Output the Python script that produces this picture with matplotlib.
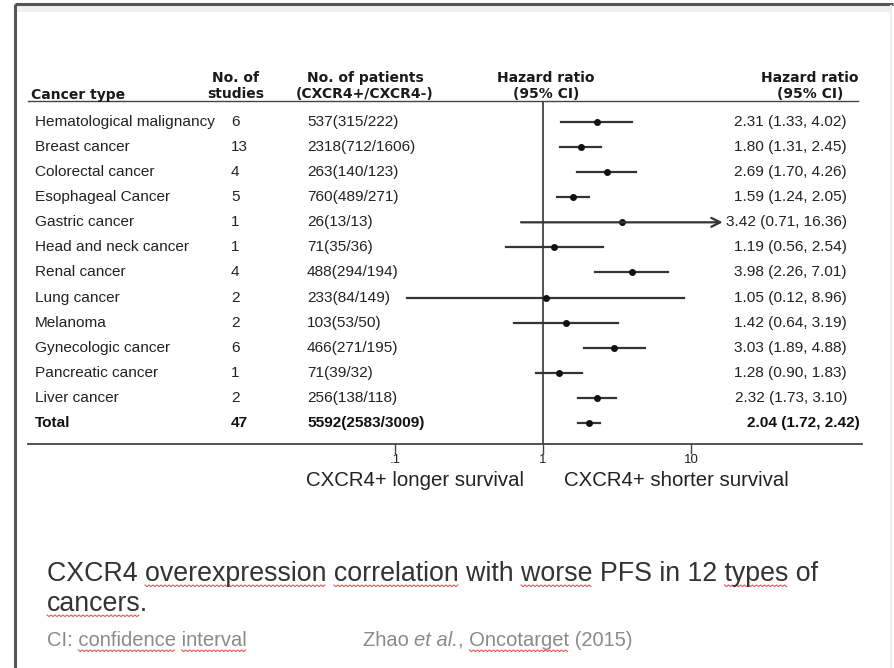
import numpy as np
import matplotlib
matplotlib.use("Agg")
import matplotlib.pyplot as plt

plt.rcParams['font.family'] = ['Liberation Sans', 'DejaVu Sans']

cancer_types = ["Hematological malignancy", "Breast cancer", "Colorectal cancer",
                "Esophageal Cancer", "Gastric cancer", "Head and neck cancer",
                "Renal cancer", "Lung cancer", "Melanoma", "Gynecologic cancer",
                "Pancreatic cancer", "Liver cancer"]
n_studies = [6, 13, 4, 5, 1, 1, 4, 2, 2, 6, 1, 2]
n_patients = ["537(315/222)", "2318(712/1606)", "263(140/123)", "760(489/271)",
              "26(13/13)", "71(35/36)", "488(294/194)", "233(84/149)",
              "103(53/50)", "466(271/195)", "71(39/32)", "256(138/118)"]
hr = [2.31, 1.80, 2.69, 1.59, 3.42, 1.19, 3.98, 1.05, 1.42, 3.03, 1.28, 2.32]
ci_low = [1.33, 1.31, 1.70, 1.24, 0.71, 0.56, 2.26, 0.12, 0.64, 1.89, 0.90, 1.73]
ci_high = [4.02, 2.45, 4.26, 2.05, 16.36, 2.54, 7.01, 8.96, 3.19, 4.88, 1.83, 3.10]

total_studies = 47
total_patients = "5592(2583/3009)"
total_hr, total_low, total_high = 2.04, 1.72, 2.42

W, H = 894, 668
fig = plt.figure(figsize=(W / 100, H / 100), dpi=100)
ax = fig.add_axes([0, 0, 1, 1])
ax.set_xlim(0, W)
ax.set_ylim(H, 0)
ax.axis('off')
r = fig.canvas.get_renderer()

# slide frame
ax.plot([15, 15], [4, H], color='#555555', lw=2.2, solid_capstyle='butt')
ax.plot([15, 893], [4, 4], color='#555555', lw=2.2, solid_capstyle='butt')
ax.fill_between([16, 891], 6, 12, color='#f0f0f0', lw=0)
ax.plot([891, 891], [6, H], color='#eeeeee', lw=1.5)

# table layout (pixel rows)
row0, step = 122, 25.08
rows = [row0 + i * step for i in range(len(cancer_types))]
total_y = row0 + len(cancer_types) * step
top_line, bottom_line = 101, 444
x_name, x_stud, x_pat, x_val = 35, 231, 307, 847
txt = dict(fontsize=11.1, color='#222222', va='center')
hdr = dict(fontsize=10, color='#1a1a1a', fontweight='bold', va='center',
           family='DejaVu Sans')
tot = dict(fontsize=11.1, color='#111111', fontweight='bold', va='center')

ax.text(31, 95, "Cancer type", ha='left', **hdr)
ax.text(236, 78, "No. of", ha='center', **hdr)
ax.text(236, 94, "studies", ha='center', **hdr)
ax.text(365, 78, "No. of patients", ha='center', **hdr)
ax.text(365, 94, "(CXCR4+/CXCR4-)", ha='center', **hdr)
ax.text(546, 78, "Hazard ratio", ha='center', **hdr)
ax.text(546, 94, "(95% CI)", ha='center', **hdr)
ax.text(810, 78, "Hazard ratio", ha='center', **hdr)
ax.text(810, 94, "(95% CI)", ha='center', **hdr)

ax.plot([28, 858], [top_line, top_line], color='#444444', lw=1)
ax.plot([28, 862], [bottom_line, bottom_line], color='#444444', lw=1.3)

for y, name, ns, npat, h, lo, hi in zip(rows, cancer_types, n_studies, n_patients,
                                        hr, ci_low, ci_high):
    ax.text(x_name, y, name, ha='left', **txt)
    ax.text(x_stud, y, str(ns), ha='left', **txt)
    ax.text(x_pat, y, npat, ha='left', **txt)
    ax.text(x_val, y, f"{h:.2f} ({lo:.2f}, {hi:.2f})", ha='right', **txt)

ax.text(x_name, total_y, "Total", ha='left', **tot)
ax.text(x_stud, total_y, str(total_studies), ha='left', **tot)
ax.text(x_pat, total_y, total_patients, ha='left', **tot)
ax.text(860, total_y, f"{total_hr:.2f} ({total_low:.2f}, {total_high:.2f})",
        ha='right', **tot)

# forest panel on a log axis: .1 -> x=395, 10 -> x=691
fx0, fx1 = 395, 691
fa = fig.add_axes([fx0 / W, 1 - bottom_line / H, (fx1 - fx0) / W,
                   (bottom_line - top_line) / H])
fa.set_xscale('log')
fa.set_xlim(0.1, 10)
fa.set_ylim(bottom_line, top_line)
fa.patch.set_alpha(0)
for s in fa.spines.values():
    s.set_visible(False)
fa.set_yticks([])
fa.set_xticks([0.1, 1, 10])
fa.set_xticklabels([".1", "1", "10"])
fa.xaxis.set_minor_locator(matplotlib.ticker.NullLocator())
fa.tick_params(axis='x', direction='out', length=7, width=1, color='#444444',
               labelsize=9.5, labelcolor='#222222', pad=0)
fa.axvline(1, color='#444444', lw=1.3)

for y, h, lo, hi in zip(rows, hr, ci_low, ci_high):
    if hi > 10:
        fa.annotate('', xy=(hi, y), xytext=(lo, y), annotation_clip=False,
                    arrowprops=dict(arrowstyle='->', lw=1.6, color='#333333',
                                    mutation_scale=16, shrinkA=0, shrinkB=0))
    else:
        fa.plot([lo, hi], [y, y], color='#333333', lw=1.6, clip_on=False)
    fa.plot(h, y, marker='o', ms=4, color='#111111', clip_on=False)

fa.plot([total_low, total_high], [total_y, total_y], color='#333333', lw=1.6)
fa.plot(total_hr, total_y, marker='o', ms=4, color='#111111')

ax.text(415, 481, "CXCR4+ longer survival", ha='center', va='center',
        fontsize=14.7, color='#222222')
ax.text(676, 481, "CXCR4+ shorter survival", ha='center', va='center',
        fontsize=14.7, color='#222222')


def text_width(s, **kw):
    t = ax.text(0, 0, s, **kw)
    w = t.get_window_extent(r).width
    t.remove()
    return w


def squiggle_text(x, y, s, words, **kw):
    """Draw text and a red wavy underline under the listed words."""
    t = ax.text(x, y, s, ha='left', va='baseline', **kw)
    for w in words:
        i = s.index(w)
        a = text_width(s[:i], **kw) if i else 0
        b = text_width(s[:i + len(w)], **kw)
        xs = np.arange(x + a, x + b, 2.0)
        ys = y + 4 + (np.arange(len(xs)) % 2) * 1.6
        ax.plot(xs, ys, color='#e05a5a', lw=0.8)
    return t


cap = dict(fontsize=19.3, color='#333333')
squiggle_text(47, 581, "CXCR4 overexpression correlation with worse PFS in 12 types of",
              ["overexpression", "correlation", "worse", "types"], **cap)
squiggle_text(47, 611, "cancers.", ["cancers"], **cap)

foot = dict(fontsize=14.5, color='#8a8a8a')
squiggle_text(47, 646, "CI: confidence interval", ["confidence", "interval"], **foot)
ax.text(363, 646, "Zhao ", ha='left', va='baseline', **foot)
zx = 363 + text_width("Zhao ", **foot)
ax.text(zx, 646, "et al.", ha='left', va='baseline', style='italic', **foot)
ex = zx + text_width("et al.", style='italic', **foot)
squiggle_text(ex, 646, ", Oncotarget (2015)", ["Oncotarget"], **foot)

fig.savefig("out.png", dpi=100)
